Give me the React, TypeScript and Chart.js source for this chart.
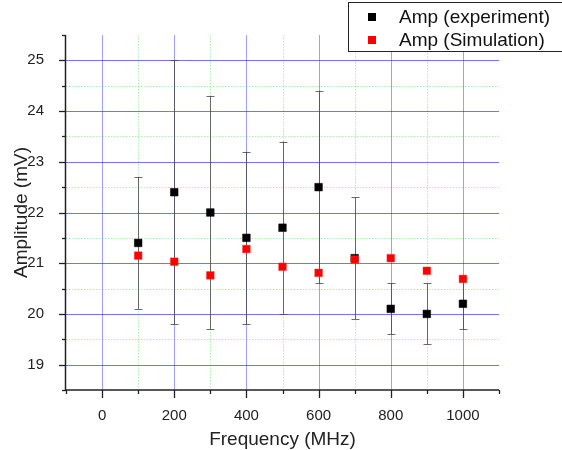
import React, { useEffect, useRef } from 'react';
import { Chart, registerables } from 'chart.js';

Chart.register(...registerables);

const frequencies = [100, 200, 300, 400, 500, 600, 700, 800, 900, 1000];
const ampExperiment = [21.4, 22.4, 22.0, 21.5, 21.7, 22.5, 21.1, 20.1, 20.0, 20.2];
const ampExperimentError = [1.3, 2.6, 2.3, 1.7, 1.7, 1.9, 1.2, 0.5, 0.6, 0.5];
const ampSimulation = [21.15, 21.03, 20.76, 21.28, 20.93, 20.81, 21.07, 21.1, 20.85, 20.69];
const seriesLabels = ['Amp (experiment)', 'Amp (Simulation)'];
const xTickLabels = [0, 200, 400, 600, 800, 1000];
const yTickLabels = [19, 20, 21, 22, 23, 24, 25];

const FONT = '"Liberation Sans", Arial, sans-serif';

const axesPlugin = {
  id: 'originAxes',
  beforeDatasetsDraw(chart: any) {
    const { ctx, chartArea: a, scales } = chart;
    const x = scales.x;
    const y = scales.y;
    ctx.save();
    // minor grid (green dotted)
    ctx.lineWidth = 1;
    ctx.setLineDash([1.5, 1.5]);
    ctx.strokeStyle = 'rgba(90, 230, 90, 0.5)';
    for (let v = x.min + 100; v < x.max; v += 100) {
      if (xTickLabels.includes(v)) continue;
      const px = Math.round(x.getPixelForValue(v)) + 0.5;
      ctx.beginPath(); ctx.moveTo(px, a.top); ctx.lineTo(px, a.bottom); ctx.stroke();
    }
    for (let v = y.min + 0.5; v < y.max - 1e-6; v += 0.5) {
      if (yTickLabels.includes(Math.round(v * 10) / 10)) continue;
      const py = Math.round(y.getPixelForValue(v)) + 0.5;
      ctx.beginPath(); ctx.moveTo(a.left, py); ctx.lineTo(a.right, py); ctx.stroke();
    }
    // major grid (blue)
    ctx.setLineDash([]);
    ctx.strokeStyle = 'rgba(40, 40, 255, 0.45)';
    xTickLabels.forEach((v) => {
      const px = Math.round(x.getPixelForValue(v)) + 0.5;
      ctx.beginPath(); ctx.moveTo(px, a.top); ctx.lineTo(px, a.bottom); ctx.stroke();
    });
    ctx.strokeStyle = 'rgba(40, 40, 255, 0.65)';
    yTickLabels.forEach((v) => {
      const py = Math.round(y.getPixelForValue(v)) + 0.5;
      ctx.beginPath(); ctx.moveTo(a.left, py); ctx.lineTo(a.right, py); ctx.stroke();
    });
    // axis lines and tick marks
    ctx.strokeStyle = '#222';
    ctx.lineWidth = 1.5;
    ctx.beginPath();
    ctx.moveTo(a.left - 0.5, a.top);
    ctx.lineTo(a.left - 0.5, a.bottom);
    ctx.lineTo(a.right, a.bottom);
    ctx.stroke();
    ctx.lineWidth = 1.3;
    for (let v = x.min; v <= x.max + 1e-6; v += 100) {
      const px = Math.round(x.getPixelForValue(v)) + 0.5;
      const len = xTickLabels.includes(v) ? 8 : 4;
      ctx.beginPath(); ctx.moveTo(px, a.bottom); ctx.lineTo(px, a.bottom + len); ctx.stroke();
    }
    for (let v = y.min; v <= y.max + 1e-6; v += 0.5) {
      const py = Math.round(y.getPixelForValue(v)) + 0.5;
      const len = yTickLabels.includes(Math.round(v * 10) / 10) ? 7 : 4;
      ctx.beginPath(); ctx.moveTo(a.left, py); ctx.lineTo(a.left - len, py); ctx.stroke();
    }
    // error bars for experiment
    ctx.strokeStyle = 'rgba(70, 70, 70, 0.8)';
    ctx.lineWidth = 1;
    frequencies.forEach((f, i) => {
      const px = Math.round(x.getPixelForValue(f)) + 0.5;
      const top = y.getPixelForValue(ampExperiment[i] + ampExperimentError[i]);
      const bot = y.getPixelForValue(ampExperiment[i] - ampExperimentError[i]);
      ctx.beginPath();
      ctx.moveTo(px, top); ctx.lineTo(px, bot);
      ctx.moveTo(px - 4, Math.round(top) + 0.5); ctx.lineTo(px + 4, Math.round(top) + 0.5);
      ctx.moveTo(px - 4, Math.round(bot) + 0.5); ctx.lineTo(px + 4, Math.round(bot) + 0.5);
      ctx.stroke();
    });
    ctx.restore();
  },
  afterDraw(chart: any) {
    const { ctx } = chart;
    ctx.save();
    ctx.fillStyle = '#fff';
    ctx.fillRect(348, 2, 220, 49);
    ctx.strokeStyle = '#222';
    ctx.lineWidth = 1;
    ctx.strokeRect(348.5, 2.5, 220, 49);
    ctx.font = `19px ${FONT}`;
    ctx.textBaseline = 'middle';
    ctx.textAlign = 'left';
    const rows = [17, 40];
    chart.data.datasets.forEach((ds: any, i: number) => {
      const cy = rows[i];
      ctx.fillStyle = ds.backgroundColor;
      ctx.fillRect(368, cy - 4, 8, 8);
      ctx.fillStyle = '#111';
      ctx.fillText(ds.label, 399, cy + 0.5);
    });
    ctx.restore();
  },
};

export default function App() {
  const ref = useRef<HTMLCanvasElement>(null);
  useEffect(() => {
    document.body.style.margin = '0';
    const chart = new Chart(ref.current as HTMLCanvasElement, {
      type: 'scatter',
      data: {
        datasets: [
          {
            label: seriesLabels[0],
            data: frequencies.map((f, i) => ({ x: f, y: ampExperiment[i] })),
            backgroundColor: '#000000',
            borderColor: '#000000',
            pointStyle: 'rect',
            pointRadius: 5.4,
            borderWidth: 0.5,
            order: 1,
          },
          {
            label: seriesLabels[1],
            data: frequencies.map((f, i) => ({ x: f, y: ampSimulation[i] })),
            backgroundColor: '#ff0000',
            borderColor: '#ff3030',
            pointStyle: 'rect',
            pointRadius: 5.4,
            borderWidth: 0.5,
            order: 0,
          },
        ],
      },
      options: {
        responsive: false,
        animation: false,
        layout: { padding: { top: 35, right: 63, left: 0, bottom: 0 } },
        plugins: { legend: { display: false }, tooltip: { enabled: false } },
        scales: {
          x: {
            type: 'linear',
            min: -100,
            max: 1100,
            grid: { display: false },
            border: { display: false },
            afterFit: (s: any) => { s.height = 60; },
            ticks: {
              stepSize: 100,
              autoSkip: false,
              maxRotation: 0,
              padding: 9,
              color: '#222',
              font: { family: FONT, size: 15 },
              callback: (v: any) => (xTickLabels.includes(Number(v)) ? String(v) : ''),
            },
            title: {
              display: true,
              text: 'Frequency (MHz)',
              color: '#222',
              font: { family: FONT, size: 19 },
              padding: { top: 0, bottom: -1.4 },
            },
          },
          y: {
            type: 'linear',
            min: 18.5,
            max: 25.5,
            grid: { display: false },
            border: { display: false },
            afterFit: (s: any) => { s.width = 66; },
            ticks: {
              stepSize: 0.5,
              autoSkip: false,
              padding: 14,
              color: '#222',
              font: { family: FONT, size: 15 },
              callback: (v: any) => {
                const n = Math.round(Number(v) * 10) / 10;
                return yTickLabels.includes(n) ? String(n) : '';
              },
            },
            title: {
              display: true,
              text: 'Amplitude (mV)',
              color: '#222',
              font: { family: FONT, size: 19 },
              padding: { top: 10.6, bottom: 0 },
            },
          },
        },
      },
      plugins: [axesPlugin],
    });
    return () => chart.destroy();
  }, []);
  return (
    <div style={{ width: 562, height: 450 }}>
      <canvas ref={ref} width={562} height={450} />
    </div>
  );
}
